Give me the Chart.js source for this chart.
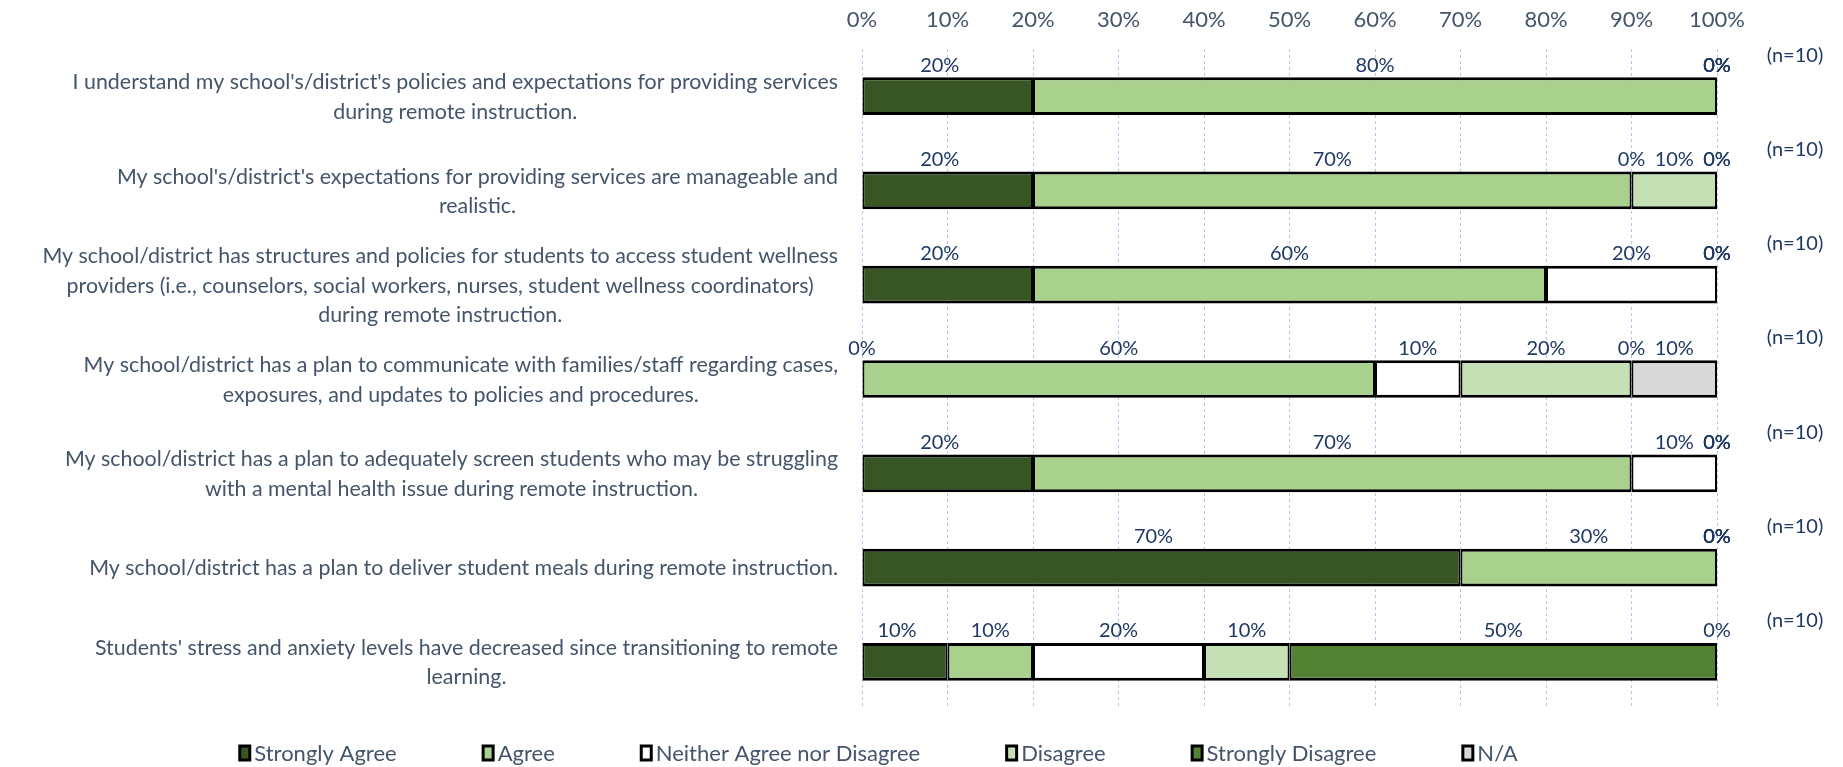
<!DOCTYPE html>
<html>
<head>
<meta charset="utf-8">
<script src="https://cdn.jsdelivr.net/npm/chart.js@4.4.0/dist/chart.umd.min.js"></script>
<style>
  html, body { margin: 0; padding: 0; background: #fff; }
  #wrap { width: 1843px; height: 767px; }
</style>
</head>
<body>
<div id="wrap"><canvas id="chart"></canvas></div>
<script>
// survey statements (each entry is one wrapped label, one line per string)
const statements = [
  ["I understand my school's/district's policies and expectations for providing services", "during remote instruction."],
  ["My school's/district's expectations for providing services are manageable and", "realistic."],
  ["My school/district has structures and policies for students to access student wellness", "providers (i.e., counselors, social workers, nurses, student wellness coordinators)", "during remote instruction."],
  ["My school/district has a plan to communicate with families/staff regarding cases,", "exposures, and updates to policies and procedures."],
  ["My school/district has a plan to adequately screen students who may be struggling", "with a mental health issue during remote instruction."],
  ["My school/district has a plan to deliver student meals during remote instruction."],
  ["Students' stress and anxiety levels have decreased since transitioning to remote", "learning."]
];
const sampleSizes = ["(n=10)", "(n=10)", "(n=10)", "(n=10)", "(n=10)", "(n=10)", "(n=10)"];

// percent of respondents per answer
const stronglyAgree    = [20, 20, 20, 0, 20, 70, 10];
const agree            = [80, 70, 60, 60, 70, 30, 10];
const neither          = [0, 0, 20, 10, 10, 0, 20];
const disagree         = [0, 10, 0, 20, 0, 0, 10];
const stronglyDisagree = [0, 0, 0, 0, 0, 0, 50];
const notApplicable    = [0, 0, 0, 10, 0, 0, 0];

const answerNames = ["Strongly Agree", "Agree", "Neither Agree nor Disagree", "Disagree", "Strongly Disagree", "N/A"];
const answerColors = ["#375623", "#A9D18E", "#FFFFFF", "#C5E0B4", "#548235", "#D9D9D9"];
const percentTicks = [0, 10, 20, 30, 40, 50, 60, 70, 80, 90, 100];

const FONT = "Lato, 'Open Sans', sans-serif";
const AXIS_TEXT = "#44546A";
const LABEL_TEXT = "#1F3864";

const series = [stronglyAgree, agree, neither, disagree, stronglyDisagree, notApplicable];
const datasets = series.map((values, i) => ({
  label: answerNames[i],
  data: values,
  backgroundColor: answerColors[i],
  borderColor: "#000000",
  borderWidth: { top: 3, bottom: 3, left: 2, right: 2 },
  borderSkipped: false,
  categoryPercentage: 1,
  barPercentage: 0.4
}));

// percent above each segment + the (n=10) note per row
const segmentLabels = {
  id: "segmentLabels",
  afterDatasetsDraw(chart) {
    const ctx = chart.ctx;
    ctx.save();
    ctx.font = "20px " + FONT;
    ctx.fillStyle = LABEL_TEXT;
    ctx.textAlign = "center";
    ctx.textBaseline = "middle";
    chart.data.datasets.forEach((ds, i) => {
      chart.getDatasetMeta(i).data.forEach((bar, j) => {
        // first series labels sit a little left of centre
        const shift = (i === 0 && ds.data[j] > 0) ? -8 : 0;
        const x = (bar.x + bar.base) / 2 + shift;
        const y = bar.y - bar.height / 2 - 12;
        ctx.fillText(ds.data[j] + "%", x, y);
      });
    });
    const yScale = chart.scales.y;
    sampleSizes.forEach((txt, j) => {
      const y = yScale.getPixelForValue(j) - 41;
      ctx.fillText(txt, chart.chartArea.right + 78, y);
    });
    ctx.restore();
  }
};

// wrapped statements: block right-aligned to the axis, lines centred in the block
const statementLabels = {
  id: "statementLabels",
  afterDraw(chart) {
    const ctx = chart.ctx;
    const yScale = chart.scales.y;
    const right = chart.chartArea.left - 24;
    const lineH = 29.5;
    ctx.save();
    ctx.font = "21.4px " + FONT;
    ctx.fillStyle = AXIS_TEXT;
    ctx.textAlign = "center";
    ctx.textBaseline = "middle";
    statements.forEach((lines, j) => {
      const w = Math.max(...lines.map(l => ctx.measureText(l).width));
      const cx = right - w / 2;
      const cy = yScale.getPixelForValue(j) + 1;
      const top = cy - (lines.length - 1) * lineH / 2;
      lines.forEach((l, k) => ctx.fillText(l, cx, top + k * lineH));
    });
    ctx.restore();
  }
};

// legend row along the bottom
const bottomLegend = {
  id: "bottomLegend",
  afterDraw(chart) {
    const ctx = chart.ctx;
    const boxW = 13, boxH = 17, gap = 3, spacing = 85;
    const centerX = 878, y = 753;
    ctx.save();
    ctx.font = "22px " + FONT;
    ctx.textBaseline = "middle";
    ctx.textAlign = "left";
    const widths = answerNames.map(n => boxW + gap + ctx.measureText(n).width);
    const total = widths.reduce((a, b) => a + b, 0) + spacing * (answerNames.length - 1);
    let x = centerX - total / 2;
    answerNames.forEach((name, i) => {
      ctx.fillStyle = "#000000";
      ctx.fillRect(x, y - boxH / 2, boxW, boxH);
      ctx.fillStyle = answerColors[i];
      ctx.fillRect(x + 3, y - boxH / 2 + 3, boxW - 6, boxH - 6);
      ctx.fillStyle = AXIS_TEXT;
      ctx.fillText(name, x + boxW + gap, y + 1);
      x += widths[i] + spacing;
    });
    ctx.restore();
  }
};

new Chart(document.getElementById("chart"), {
  type: "bar",
  data: {
    labels: statements.map(l => l.join(" ")),
    datasets: datasets
  },
  options: {
    indexAxis: "y",
    responsive: true,
    maintainAspectRatio: false,
    animation: false,
    layout: { padding: { left: 0, right: 126, top: 0, bottom: 58 } },
    plugins: {
      legend: { display: false },
      tooltip: { enabled: false }
    },
    scales: {
      x: {
        stacked: true,
        position: "top",
        min: 0,
        max: 100,
        afterBuildTicks(scale) {
          scale.ticks = percentTicks.map(v => ({ value: v }));
        },
        afterFit(scale) { scale.height = 49; },
        grid: {
          color: "#B4C7E7",
          lineWidth: 1,
          drawTicks: false
        },
        border: { display: false, dash: [3, 3] },
        ticks: {
          padding: 16,
          color: AXIS_TEXT,
          font: { family: FONT, size: 22 },
          callback: v => v + "%"
        }
      },
      y: {
        stacked: true,
        afterFit(scale) { scale.width = 862; },
        grid: { display: false },
        border: { display: false },
        ticks: { display: false }
      }
    }
  },
  plugins: [segmentLabels, statementLabels, bottomLegend]
});
</script>
</body>
</html>
